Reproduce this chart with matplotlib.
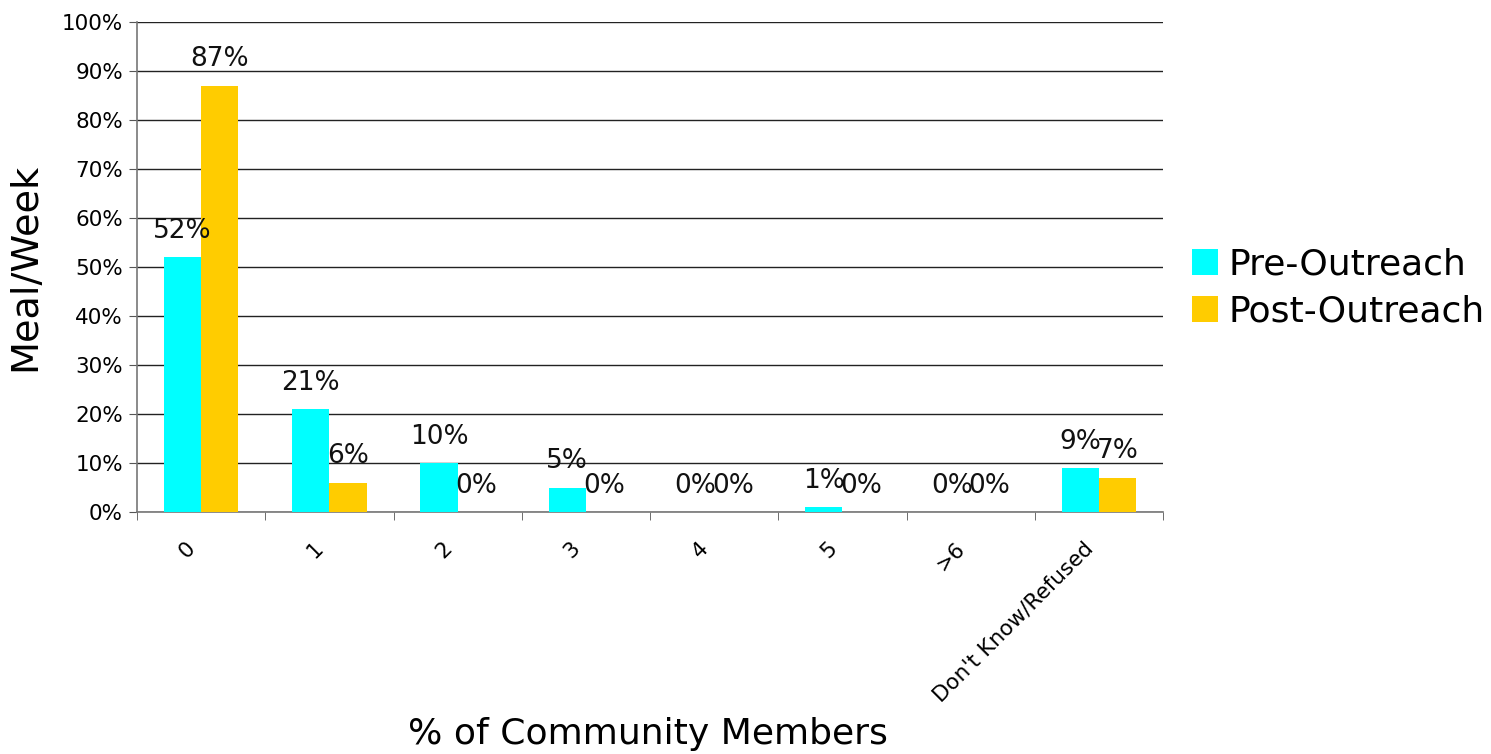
import matplotlib
matplotlib.use("Agg")
import matplotlib.pyplot as plt
import matplotlib.transforms as mtransforms
import numpy as np

categories = ["0", "1", "2", "3", "4", "5", ">6", "Don't Know/Refused"]
pre_outreach = [52, 21, 10, 5, 0, 1, 0, 9]
post_outreach = [87, 6, 0, 0, 0, 0, 0, 7]
series_names = ["Pre-Outreach", "Post-Outreach"]
colors = ["#00FFFF", "#FFCC00"]
y_ticks = [0, 10, 20, 30, 40, 50, 60, 70, 80, 90, 100]

plt.rcParams['font.family'] = ['DejaVu Sans']

fig = plt.figure(figsize=(14.91, 7.54), dpi=100)
ax = fig.add_axes([137/1491, 1-512/754, (1163-137)/1491, (512-22)/754])

x = np.arange(len(categories))
w = 0.29
bars_pre = ax.bar(x - w/2, pre_outreach, w, color=colors[0], label=series_names[0], zorder=3)
bars_post = ax.bar(x + w/2, post_outreach, w, color=colors[1], label=series_names[1], zorder=3)

for bars, vals in ((bars_pre, pre_outreach), (bars_post, post_outreach)):
    for b, v in zip(bars, vals):
        ax.annotate(f"{v}%", (b.get_x() + b.get_width()/2, v),
                    xytext=(0, 19), textcoords="offset points",
                    ha="center", va="center", fontsize=19, color="#111111", zorder=4)

ax.set_xlim(-0.5, len(categories) - 0.5)
ax.set_ylim(0, 100)
ax.set_yticks(y_ticks)
ax.set_yticklabels([f"{t}%" for t in y_ticks], fontsize=15.5)
ax.yaxis.grid(True, color="#222222", linewidth=1, zorder=0)
ax.set_axisbelow(True)

ax.set_xticks(x)
ax.set_xticklabels(categories, fontsize=15.5, rotation=45, ha="right", va="center",
                   rotation_mode="anchor")
ax.tick_params(axis="x", length=0, pad=24)
shift = mtransforms.ScaledTranslation(-0.09, 0, fig.dpi_scale_trans)
for lbl in ax.get_xticklabels():
    lbl.set_transform(lbl.get_transform() + shift)
ax.set_xticks(np.arange(-0.5, len(categories), 1), minor=True)
ax.tick_params(axis="x", which="minor", length=6, color="#555555", direction="out")
ax.tick_params(axis="y", length=6, color="#555555", direction="out", pad=4)

for s in ("top", "right"):
    ax.spines[s].set_visible(False)
for s in ("left", "bottom"):
    ax.spines[s].set_color("#777777")
    ax.spines[s].set_linewidth(1.2)

ax.set_ylabel("Meal/Week", fontsize=27.5)
ax.yaxis.set_label_coords(-0.091, 0.5)
ax.set_xlabel("% of Community Members", fontsize=26)
ax.xaxis.set_label_coords(0.498, -0.418)

fig.legend(handles=[bars_pre, bars_post], labels=series_names,
           loc="center left", bbox_to_anchor=(1192/1491, 1-288/754),
           frameon=False, fontsize=26, handlelength=0.72, handleheight=0.72,
           handletextpad=0.3, labelspacing=0.35, borderpad=0, borderaxespad=0)

fig.savefig("out.png", dpi=100)
